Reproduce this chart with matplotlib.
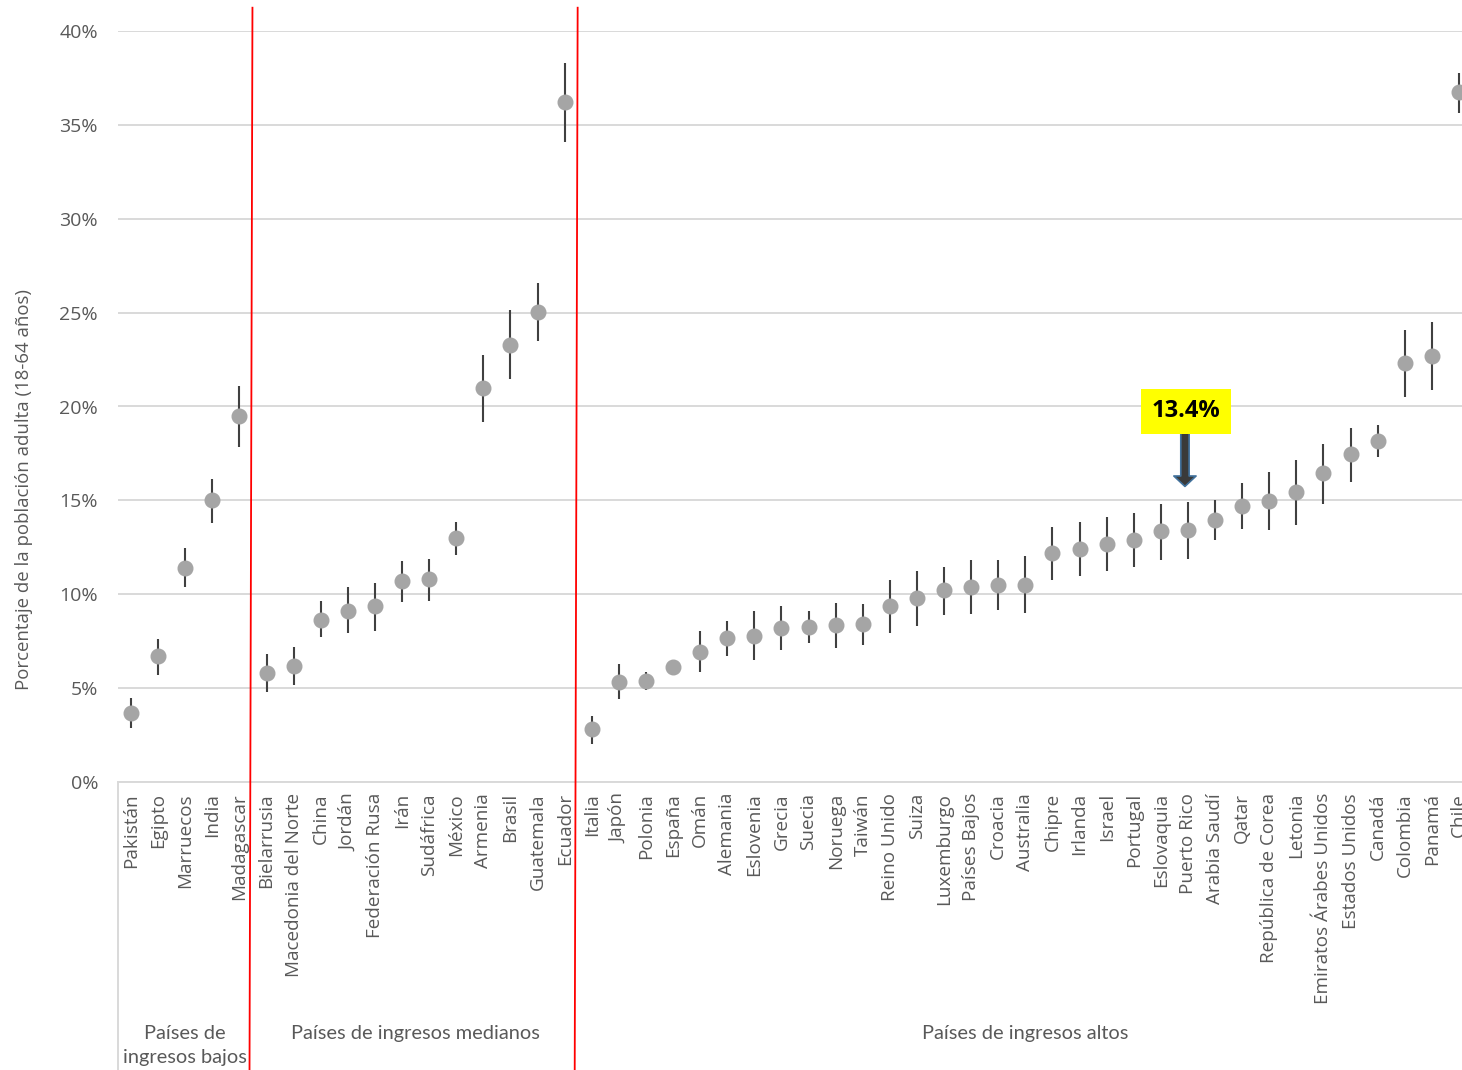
import numpy as np
import matplotlib
matplotlib.use('Agg')
import matplotlib.pyplot as plt
from matplotlib import transforms

plt.rcParams['font.family'] = ['Open Sans', 'DejaVu Sans']

countries = ['Pakistán', 'Egipto', 'Marruecos', 'India', 'Madagascar',
             'Bielarrusia', 'Macedonia del Norte', 'China', 'Jordán', 'Federación Rusa',
             'Irán', 'Sudáfrica', 'México', 'Armenia', 'Brasil', 'Guatemala', 'Ecuador',
             'Italia', 'Japón', 'Polonia', 'España', 'Omán', 'Alemania', 'Eslovenia',
             'Grecia', 'Suecia', 'Noruega', 'Taiwán', 'Reino Unido', 'Suiza', 'Luxemburgo',
             'Países Bajos', 'Croacia', 'Australia', 'Chipre', 'Irlanda', 'Israel',
             'Portugal', 'Eslovaquia', 'Puerto Rico', 'Arabia Saudí', 'Qatar',
             'República de Corea', 'Letonia', 'Emiratos Árabes Unidos', 'Estados Unidos',
             'Canadá', 'Colombia', 'Panamá', 'Chile']

# estimate and 95% interval, in %
val = [3.7, 6.7, 11.4, 15.0, 19.5,
       5.8, 6.2, 8.65, 9.1, 9.35, 10.7, 10.8, 13.0, 21.0, 23.3, 25.05, 36.2,
       2.8, 5.35, 5.4, 6.15, 6.95, 7.65, 7.8, 8.2, 8.25, 8.35, 8.4, 9.35, 9.8, 10.2,
       10.4, 10.5, 10.5, 12.2, 12.4, 12.7, 12.9, 13.35, 13.4, 13.95, 14.7,
       14.95, 15.45, 16.45, 17.45, 18.15, 22.3, 22.7, 36.75]
low = [2.85, 5.7, 10.4, 13.8, 17.85,
       4.8, 5.15, 7.7, 7.95, 8.05, 9.6, 9.65, 12.1, 19.2, 21.45, 23.5, 34.1,
       2.05, 4.4, 4.9, 6.1, 5.85, 6.7, 6.5, 7.05, 7.4, 7.15, 7.3, 7.95, 8.3, 8.9,
       8.95, 9.15, 9.0, 10.75, 10.95, 11.25, 11.45, 11.85, 11.9, 12.9, 13.45,
       13.4, 13.7, 14.8, 16.0, 17.3, 20.5, 20.9, 35.65]
high = [4.45, 7.6, 12.45, 16.15, 21.1,
        6.8, 7.2, 9.65, 10.4, 10.6, 11.75, 11.9, 13.85, 22.75, 25.15, 26.6, 38.3,
        3.5, 6.3, 5.85, 6.2, 8.05, 8.55, 9.1, 9.4, 9.1, 9.55, 9.5, 10.75, 11.25, 11.45,
        11.8, 11.8, 12.05, 13.6, 13.85, 14.1, 14.35, 14.8, 14.9, 15.0, 15.95,
        16.5, 17.15, 18.0, 18.85, 19.0, 24.05, 24.5, 37.75]

groups = ['Países de\ningresos bajos', 'Países de ingresos medianos', 'Países de ingresos altos']
group_sizes = [5, 12, 33]
highlight = 'Puerto Rico'

x = np.arange(len(countries))
val = np.array(val)
yerr = [val - np.array(low), np.array(high) - val]

fig = plt.figure(figsize=(14.62, 10.70), dpi=100)
ax = fig.add_axes([117.5/1462, 288/1070, 1355/1462, 751/1070])

ax.set_xlim(-0.5, len(countries) - 0.5)
ax.set_ylim(0, 40)
ax.set_yticks(range(0, 41, 5))
ax.set_yticklabels([f"{t}%" for t in range(0, 41, 5)])
ax.grid(axis='y', color='#d9d9d9', lw=1.4)
ax.set_axisbelow(True)
for s in ['top', 'right', 'left']:
    ax.spines[s].set_visible(False)
ax.spines['bottom'].set_color('#d9d9d9')
ax.spines['bottom'].set_linewidth(1.4)
ax.tick_params(axis='both', length=0, colors='#595959')
ax.tick_params(axis='y', labelsize=14, pad=14)
ax.tick_params(axis='x', labelsize=13.6, pad=8)
ax.set_xticks(x)
ax.set_xticklabels(countries, rotation=90)

ax.errorbar(x, val, yerr=yerr, fmt='none', ecolor='#404040', elinewidth=1.5, capsize=0, zorder=3)
ax.plot(x, val, 'o', ms=10.5, color='#a5a5a5', zorder=4)

ax.set_ylabel('Porcentaje de la población adulta (18-64 años)', fontsize=13.4, color='#595959')
ax.yaxis.set_label_coords(-0.0624, 0.389)

# category axis frame + group labels
trans = transforms.blended_transform_factory(ax.transData, ax.transAxes)
ax.plot([0, 0], [0, -0.4], transform=ax.transAxes, color='#d9d9d9', lw=1.4, clip_on=False)
start = 0
for g, n in zip(groups, group_sizes):
    c = start + (n - 1) / 2
    ax.text(c, -0.324, g, transform=trans, ha='center', va='top', fontsize=14.4,
            color='#595959', family='Lato', linespacing=1.45)
    start += n
    if start < len(countries):
        b = start - 0.5
        ax.plot([b - 0.02, b - 0.13], [1.031, -0.4], transform=trans, color='red',
                lw=1.3, clip_on=False, zorder=5)

# highlight callout
i = countries.index(highlight)
v = val[i]
tip = transforms.offset_copy(ax.transData, fig=fig, x=-3, y=44, units='dots')
tail = transforms.offset_copy(ax.transData, fig=fig, x=-3, y=99, units='dots')
ax.annotate('', xy=(i, v), xycoords=tip, xytext=(i, v), textcoords=tail,
            arrowprops=dict(arrowstyle='simple,head_length=0.75,head_width=1.6,tail_width=0.6',
                            mutation_scale=10, fc='#3a3a3a', ec='#41719c', lw=1.2,
                            shrinkA=0, shrinkB=0))
ax.annotate(f"{v:.1f}%", xy=(i, v), xytext=(-2, 119), textcoords='offset pixels',
            ha='center', va='center', fontsize=17, fontweight='bold', color='black',
            bbox=dict(boxstyle='square,pad=0.45', fc='#ffff00', ec='none'))

fig.savefig('out.png', dpi=100, facecolor='white')
